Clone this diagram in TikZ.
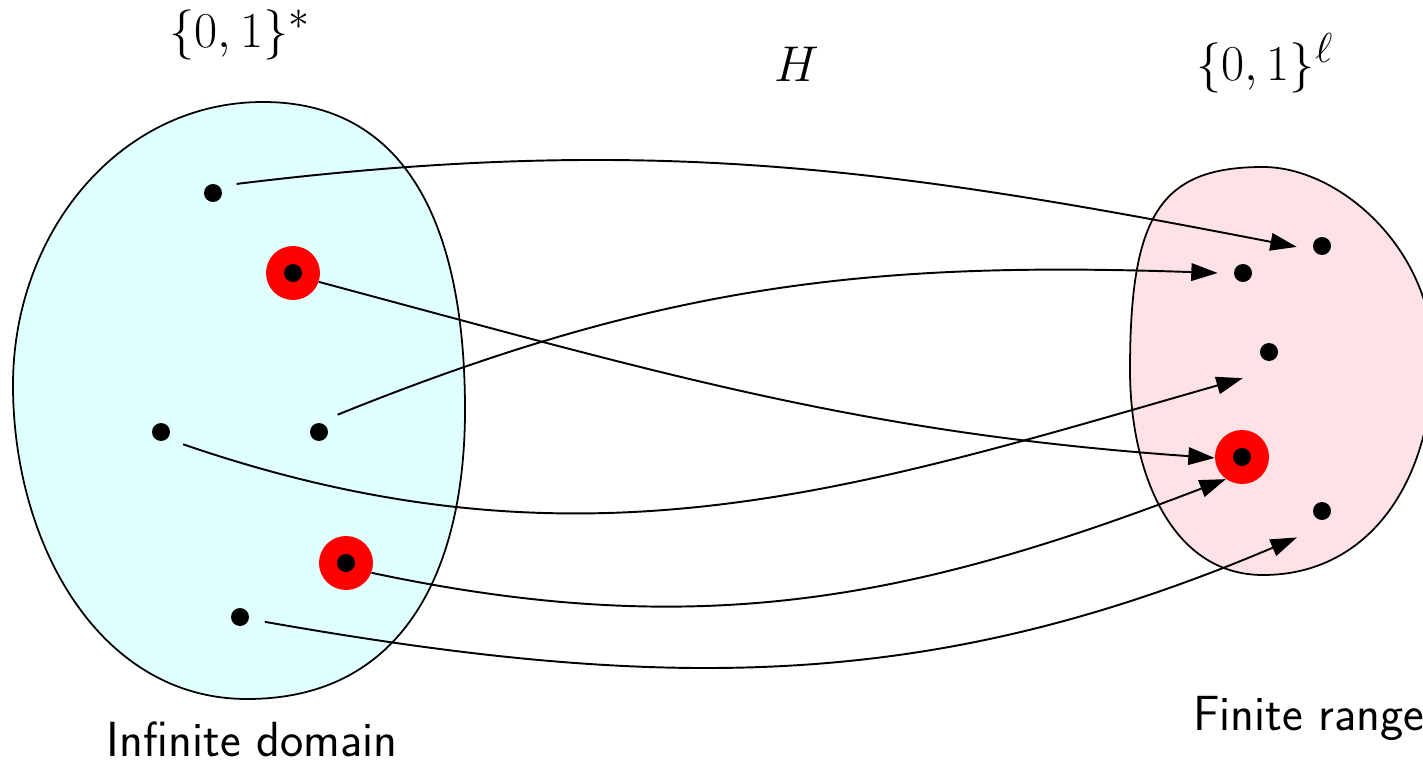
\documentclass[tikz,border=0pt]{standalone}
\usepackage{fontspec}
\usetikzlibrary{arrows.meta}
\definecolor{domfill}{RGB}{224,255,255}
\definecolor{rngfill}{RGB}{255,226,229}
\tikzset{
  pt/.style={circle, minimum size=1cm, inner sep=0pt, draw=none,
    path picture={\fill[black] (path picture bounding box.center) circle (0.18cm);}},
  hot/.style={pt, minimum size=1.08cm, fill=red},
  arr/.style={line width=1.1pt, -{Triangle[length=15pt,width=10pt]}},
  blob/.style={line width=1pt, draw=black},
  lbl/.style={font=\fontsize{24.88}{30}\selectfont, inner sep=0pt, scale=1.15},
  sflbl/.style={font=\fontsize{24.88}{30}\selectfont\sffamily, inner sep=0pt, scale=1.13, anchor=base}
}
\begin{document}
\begin{tikzpicture}[x=0.02cm,y=-0.02cm]
\useasboundingbox (0,0) rectangle (1423,760);
% domain blob
\filldraw[blob, fill=domfill] (263,102)
  .. controls (400,102) and (465,215) .. (465,410)
  .. controls (465,560) and (410,699) .. (247,699)
  .. controls (100,699) and (13,545) .. (13,385)
  .. controls (13,232) and (120,102) .. cycle;
% range blob
\filldraw[blob, fill=rngfill] (1263,167)
  .. controls (1340,167) and (1433,250) .. (1433,357)
  .. controls (1433,480) and (1370,575) .. (1263,575)
  .. controls (1170,575) and (1130,470) .. (1130,370)
  .. controls (1130,215) and (1160,167) .. cycle;
% domain points
\node[pt]  (a1) at (213,193) {};
\node[hot] (a2) at (293,273) {};
\node[pt]  (a3) at (161,432) {};
\node[pt]  (a4) at (319,432) {};
\node[hot] (a5) at (346,563) {};
\node[pt]  (a6) at (240,617) {};
% range points
\node[pt]  (b1) at (1322,246) {};
\node[pt]  (b2) at (1243,273) {};
\node[pt]  (b3) at (1269,352) {};
\node[hot] (b4) at (1242,457) {};
\node[pt]  (b5) at (1322,511) {};
% mappings
\draw[arr] (a1.21) to[out=7, in=169] (b1.182);
\draw[arr] (a2.-19) to[out=-15, in=176] (b4.182);
\draw[arr] (a4.43) to[out=22, in=178] (b2.180);
\draw[arr, shorten >=8.3pt] (a3.-29) to[out=-19, in=-164] (b3.241);
\draw[arr] (a5.-21) to[out=-12, in=-159] (b4.234);
\draw[arr, shorten >=7.2pt] (a6.-11) to[out=-10, in=-157] (b5.238);
% labels
\node[lbl] (ldom) at (240,35) {$\{0,1\}^*$};
\node[lbl] (lH) at (797,64) {$H$};
\node[lbl] (lrng) at (1265,63) {$\{0,1\}^\ell$};
\node[sflbl] (tdom) at (252,756) {Infinite domain};
\node[sflbl] (trng) at (1309,730) {Finite range};
\end{tikzpicture}
\end{document}
